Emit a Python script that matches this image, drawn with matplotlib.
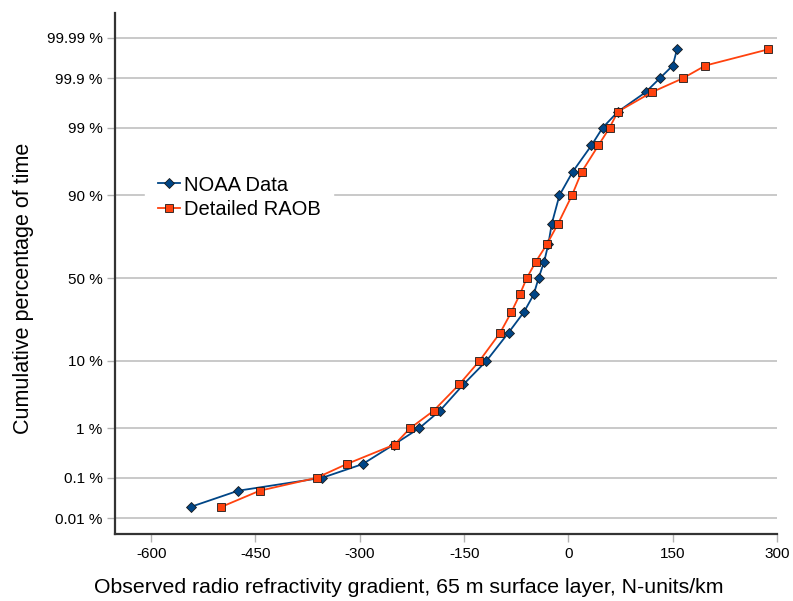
import matplotlib
matplotlib.use("Agg")
import matplotlib.pyplot as plt
import numpy as np
from statistics import NormalDist

plt.rcParams['font.family'] = ['Liberation Sans', 'DejaVu Sans']
plt.rcParams['axes.unicode_minus'] = False

# cumulative percentage of time (%)
pct = [0.02, 0.05, 0.1, 0.2, 0.5, 1, 2, 5, 10, 20, 30, 40, 50, 60, 70, 80,
       90, 95, 98, 99, 99.5, 99.8, 99.9, 99.95, 99.98]
# refractivity gradient, N-units/km
noaa = [-543, -475, -354, -296, -251, -215, -185, -151, -118, -86, -64, -50,
        -43, -35, -29, -24, -13, 6, 33, 49, 71, 111, 131, 150, 156]
raob = [-499, -444, -362, -319, -250, -228, -194, -157, -128, -98, -82, -70,
        -60, -47, -31, -15, 5, 19, 43, 59, 71, 120, 164, 197, 287]

yticks = [0.01, 0.1, 1, 10, 50, 90, 99, 99.9, 99.99]
ylabels = ['0.01 %', '0.1 %', '1 %', '10 %', '50 %', '90 %', '99 %', '99.9 %', '99.99 %']
xticks = [-600, -450, -300, -150, 0, 150, 300]

nd = NormalDist()
_ppf = np.vectorize(nd.inv_cdf, otypes=[float])
_cdf = np.vectorize(nd.cdf, otypes=[float])

def fwd(p):
    p = np.clip(np.asarray(p, dtype=float) / 100.0, 1e-9, 1 - 1e-9)
    return _ppf(p)

def inv(z):
    return _cdf(np.asarray(z, dtype=float)) * 100.0

fig = plt.figure(figsize=(7.93, 6.01), dpi=100)
ax = fig.add_axes([0.145, 0.1115, 0.835, 0.8665])
ax.set_yscale('function', functions=(fwd, inv))

ax.plot(noaa, pct, color='#004586', lw=1.3, marker='D', ms=5.3,
        mec='#1a1a1a', mew=0.6, label='NOAA Data', zorder=3)
ax.plot(raob, pct, color='#ff420e', lw=1.3, marker='s', ms=5.3,
        mec='#1a1a1a', mew=0.6, label='Detailed RAOB', zorder=3)

ax.set_xlim(-652, 300)
ax.set_ylim(float(inv(-3.96)), float(inv(4.10)))
ax.set_xticks(xticks)
ax.set_yticks(yticks)
ax.set_yticklabels(ylabels)
ax.yaxis.set_minor_locator(matplotlib.ticker.NullLocator())

ax.grid(axis='y', color='#c0c0c0', lw=1.2)
ax.set_axisbelow(True)
for s in ['top', 'right']:
    ax.spines[s].set_visible(False)
for s in ['left', 'bottom']:
    ax.spines[s].set_color('#333333')
    ax.spines[s].set_linewidth(1.6)
ax.tick_params(axis='both', labelsize=11, colors='#b3b3b3', labelcolor='black',
               length=6, width=1)
ax.tick_params(axis='y', pad=3)

ax.set_xlabel('Observed radio refractivity gradient, 65 m surface layer, N-units/km',
              fontsize=15.3)
ax.set_ylabel('Cumulative percentage of time', fontsize=15.5)
ax.xaxis.set_label_coords(0.444, -0.085)
ax.yaxis.set_label_coords(-0.123, 0.472)

leg = ax.legend(loc='center left', bbox_to_anchor=(0.046, 0.647), frameon=True,
                fontsize=14.5, handlelength=1.1, handletextpad=0.2,
                borderpad=0.6, borderaxespad=0, labelspacing=0.25)
leg.get_frame().set_edgecolor('white')
leg.get_frame().set_facecolor('white')
leg.get_frame().set_alpha(1)
leg.get_frame().set_boxstyle('square', pad=0)

fig.savefig('out.png', dpi=100)
